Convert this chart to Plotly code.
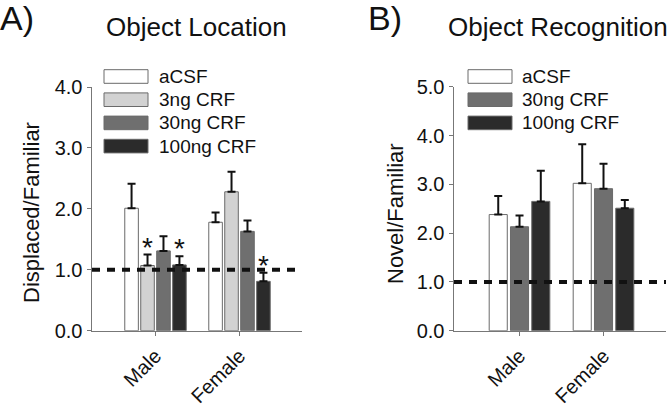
import plotly.graph_objects as go

# ---------------- data ----------------
sexes = ["Male", "Female"]

a_groups = ["aCSF", "3ng CRF", "30ng CRF", "100ng CRF"]
a_means = {
    "aCSF": [2.01, 1.78],
    "3ng CRF": [1.07, 2.28],
    "30ng CRF": [1.31, 1.63],
    "100ng CRF": [1.08, 0.81],
}
a_err = {
    "aCSF": [0.40, 0.16],
    "3ng CRF": [0.18, 0.33],
    "30ng CRF": [0.24, 0.18],
    "100ng CRF": [0.14, 0.14],
}
a_sig = {  # groups / sex indices marked with an asterisk
    "3ng CRF": [0],
    "100ng CRF": [0, 1],
}

b_groups = ["aCSF", "30ng CRF", "100ng CRF"]
b_means = {
    "aCSF": [2.38, 3.02],
    "30ng CRF": [2.13, 2.91],
    "100ng CRF": [2.65, 2.51],
}
b_err = {
    "aCSF": [0.38, 0.80],
    "30ng CRF": [0.23, 0.51],
    "100ng CRF": [0.63, 0.17],
}

chance = 1.0
a_yticks = [0.0, 1.0, 2.0, 3.0, 4.0]
b_yticks = [0.0, 1.0, 2.0, 3.0, 4.0, 5.0]

colors = {
    "aCSF": "#ffffff",
    "3ng CRF": "#d2d2d2",
    "30ng CRF": "#6f6f6f",
    "100ng CRF": "#2b2b2b",
}

FONT = "Liberation Sans, Arial, sans-serif"
TXT = "#111111"
W, H = 672, 408
bargap = 0.24
bargroupgap = 0.15

def px(x):
    return x / W

def py(y):
    return 1 - y / H

fig = go.Figure()

for g in a_groups:
    fig.add_trace(go.Bar(
        x=sexes, y=a_means[g], name=g, xaxis="x", yaxis="y",
        marker=dict(color=colors[g], line=dict(color="#6a6a6a", width=1)),
        error_y=dict(type="data", symmetric=False, array=a_err[g],
                     arrayminus=[0] * len(sexes), color="#111111",
                     thickness=2, width=4),
        showlegend=False, hoverinfo="skip",
    ))

for g in b_groups:
    fig.add_trace(go.Bar(
        x=sexes, y=b_means[g], name=g, xaxis="x2", yaxis="y2",
        marker=dict(color=colors[g], line=dict(color="#6a6a6a", width=1)),
        error_y=dict(type="data", symmetric=False, array=b_err[g],
                     arrayminus=[0] * len(sexes), color="#111111",
                     thickness=2, width=4),
        showlegend=False, hoverinfo="skip",
    ))

axis_common = dict(
    showline=True, linecolor="#777777", linewidth=1.5,
    ticks="outside", ticklen=4, tickcolor="#777777", tickwidth=1,
    showgrid=False, zeroline=False, automargin=False,
    tickfont=dict(family=FONT, size=20, color=TXT),
)

fig.update_layout(
    width=W, height=H,
    margin=dict(l=0, r=0, t=0, b=0, pad=0),
    paper_bgcolor="white", plot_bgcolor="white",
    barmode="group", bargap=bargap, bargroupgap=bargroupgap,
    font=dict(family=FONT, color=TXT),
    xaxis=dict(domain=[px(92), px(302)], anchor="y", range=[-0.756, 1.744],
               tickangle=-45, **axis_common),
    yaxis=dict(domain=[py(330.7), py(87)], anchor="x", range=[0, 4],
               tickvals=a_yticks, ticktext=[f"{v:.1f}" for v in a_yticks],
               **axis_common),
    xaxis2=dict(domain=[px(454), px(666)], anchor="y2", range=[-0.78, 1.744],
                tickangle=-45, **axis_common),
    yaxis2=dict(domain=[py(330.7), py(86.7)], anchor="x2", range=[0, 5],
                tickvals=b_yticks, ticktext=[f"{v:.1f}" for v in b_yticks],
                **axis_common),
)

# chance lines
for xr, yr in [("x", "y"), ("x2", "y2")]:
    fig.add_shape(type="line", xref=f"{xr} domain", yref=yr, x0=0, x1=1,
                  y0=chance, y1=chance, layer="above",
                  line=dict(color="#111111", width=4, dash="8px,7px"))

# asterisks
n = len(a_groups)
slot = (1 - bargap) / n
for g, idxs in a_sig.items():
    k = a_groups.index(g)
    off = -(1 - bargap) / 2 + slot * (k + 0.5)
    for i in idxs:
        fig.add_annotation(x=i + off, y=a_means[g][i] + a_err[g][i],
                           xref="x", yref="y", text="*", showarrow=False,
                           yanchor="bottom", yshift=-10,
                           font=dict(family=FONT, size=28, color=TXT))

# custom legends
def legend(groups, x0, x1, ytop, xtext):
    for j, g in enumerate(groups):
        yc = ytop + j * 23.2
        fig.add_shape(type="rect", xref="paper", yref="paper",
                      x0=px(x0), x1=px(x1), y0=py(yc - 6.8), y1=py(yc + 6.8),
                      fillcolor=colors[g], line=dict(color="#6a6a6a", width=1))
        fig.add_annotation(xref="paper", yref="paper", x=px(xtext), y=py(yc),
                           text=g, showarrow=False, xanchor="left",
                           yanchor="middle",
                           font=dict(family=FONT, size=19, color=TXT))

legend(a_groups, 104, 148, 76.5, 157)
legend(b_groups, 468, 512, 76.5, 520)

# titles and labels
def text(x, y, s, size, angle=0, xanchor="center"):
    fig.add_annotation(xref="paper", yref="paper", x=px(x), y=py(y), text=s,
                       showarrow=False, xanchor=xanchor, yanchor="middle",
                       textangle=angle, font=dict(family=FONT, size=size, color=TXT))

text(-2, 18, "A)", 34, xanchor="left")
text(366, 18, "B)", 34, xanchor="left")
text(196, 27, "Object Location", 26)
text(558, 27, "Object Recognition", 26)
text(31, 213, "Displaced/Familiar", 22, angle=-90)
text(395, 214, "Novel/Familiar", 22, angle=-90)

fig.write_html("out.html",
               config={"displayModeBar": False, "staticPlot": True},
               post_script="document.body.style.margin='0';"
                           "document.body.style.overflow='hidden';")
